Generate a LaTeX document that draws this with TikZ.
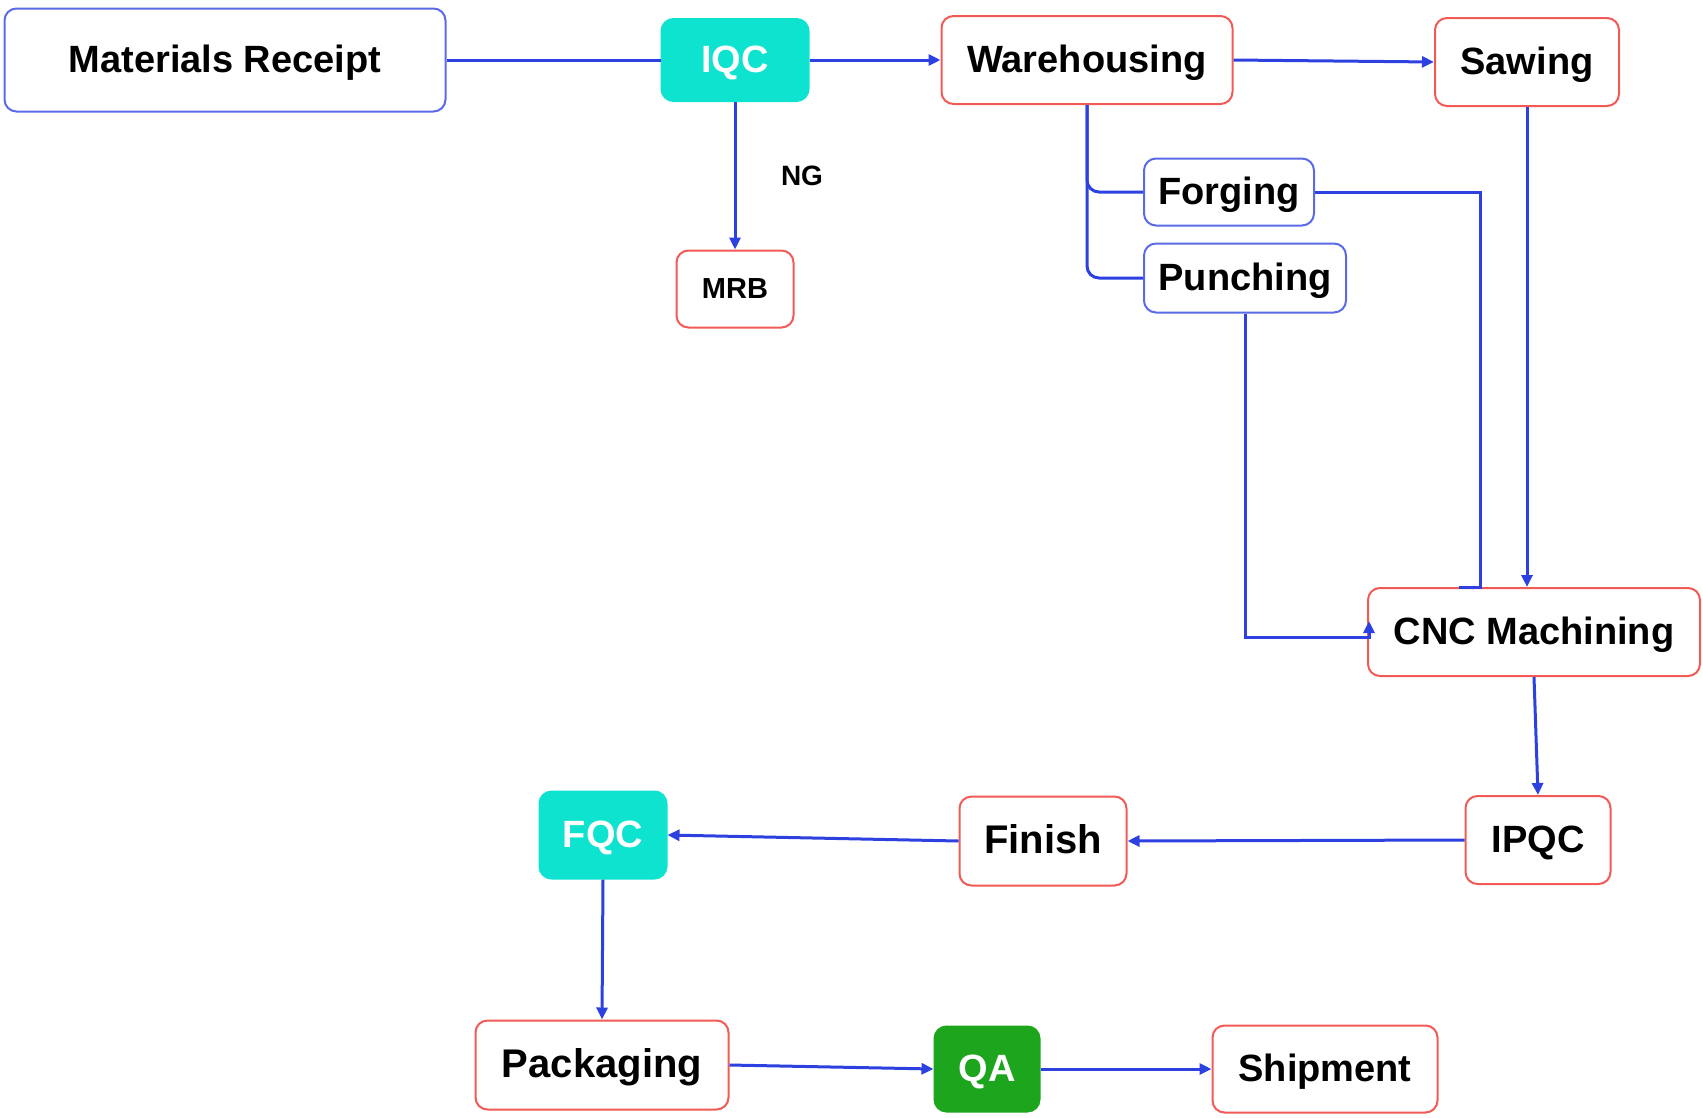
\documentclass[tikz,border=0pt]{standalone}
\usepackage{fontspec}
\setmainfont{Liberation Sans}
\usetikzlibrary{arrows.meta}
\definecolor{lineblue}{RGB}{44,65,224}
\definecolor{boxred}{RGB}{242,90,85}
\definecolor{boxblue}{RGB}{91,107,232}
\definecolor{turq}{RGB}{14,227,207}
\definecolor{qagreen}{RGB}{29,165,29}
\tikzset{
  base/.style={rounded corners=12pt, line width=2pt, inner sep=0pt, align=center,
    font=\fontsize{38}{40}\selectfont\bfseries, text height=30pt, text depth=5pt},
  redbox/.style={base, draw=boxred, fill=white},
  bluebox/.style={base, draw=boxblue, fill=white},
  qcbox/.style={base, draw=turq, fill=turq, text=white},
  qabox/.style={base, draw=qagreen, fill=qagreen, text=white},
  conn/.style={draw=lineblue, line width=3pt},
  arr/.style={conn, -{Triangle[length=12pt,width=11pt]}},
  lbl/.style={font=\fontsize{28}{30}\selectfont\bfseries, inner sep=0pt}
}
\begin{document}
\begin{tikzpicture}[x=1pt,y=-1pt]
\useasboundingbox (0,0) rectangle (1703,1117);
\node[bluebox, minimum width=441pt, minimum height=103pt] (mr) at (225,60) {Materials Receipt};
\node[qcbox, minimum width=147pt, minimum height=82pt] (iqc) at (735,60) {IQC};
\node[redbox, minimum width=291pt, minimum height=88pt] (wh) at (1087,60) {Warehousing};
\node[redbox, minimum width=184pt, minimum height=88pt] (saw) at (1527,62) {Sawing};
\node[redbox, minimum width=117pt, minimum height=77pt, font=\fontsize{29}{30}\selectfont\bfseries, text height=23pt, text depth=4pt] (mrb) at (735,289) {MRB};
\node[lbl] (ng) at (802,176) {NG};
\node[bluebox, minimum width=170pt, minimum height=67pt] (forg) at (1229,192) {Forging};
\node[bluebox, minimum width=202pt, minimum height=69pt] (pun) at (1245,278) {Punching};
\node[redbox, minimum width=332pt, minimum height=88pt] (cnc) at (1534,632) {CNC Machining};
\node[redbox, minimum width=145pt, minimum height=88pt] (ipqc) at (1538,840) {IPQC};
\node[redbox, minimum width=167pt, minimum height=89pt, font=\fontsize{40}{42}\selectfont\bfseries] (fin) at (1043,841) {Finish};
\node[qcbox, minimum width=127pt, minimum height=87pt] (fqc) at (603,835) {FQC};
\node[redbox, minimum width=253pt, minimum height=89pt, font=\fontsize{40}{42}\selectfont\bfseries] (pack) at (602,1065) {Packaging};
\node[qabox, minimum width=105pt, minimum height=85pt] (qa) at (987,1069) {QA};
\node[redbox, minimum width=225pt, minimum height=87pt] (ship) at (1325,1069) {Shipment};

\coordinate (fk) at (1480,587);
\coordinate (fe) at (1459,587);
\coordinate (ca) at (1369,637);
\coordinate (cb) at (1369,621);

\draw[conn] (mr.east) -- (iqc.west);
\draw[arr] (iqc.east) -- (wh.west);
\draw[arr] (iqc.south) -- (mrb.north);
\draw[arr] (wh.east) -- (saw.west);
\draw[conn, rounded corners=12pt] (wh.south) |- (forg.west);
\draw[conn, rounded corners=12pt] (wh.south) |- (pun.west);
\draw[conn] (forg.east) -| (fk) -- (fe);
\draw[arr] (saw.south) -- (saw.south |- cnc.north);
\draw[arr] (pun.south) |- (ca) -- (cb);
\draw[arr] (cnc.south) -- (ipqc.north);
\draw[arr] (ipqc.west) -- (fin.east);
\draw[arr] (fin.west) -- (fqc.east);
\draw[arr] (fqc.south) -- (pack.north);
\draw[arr] (pack.east) -- (qa.west);
\draw[arr] (qa.east) -- (ship.west);
\end{tikzpicture}
\end{document}
